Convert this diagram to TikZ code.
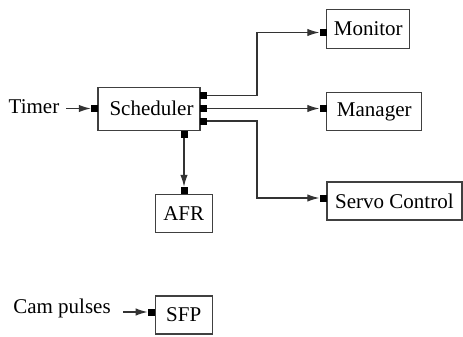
\documentclass[tikz,border=0pt]{standalone}
\usepackage{fontspec}
\setmainfont{Liberation Serif}
\newfontfamily\serf{Liberation Serif}
\usetikzlibrary{arrows.meta}
\begin{document}
\begin{tikzpicture}[x=1pt,y=-1pt,
  box/.style={draw=black!75,line width=1.2pt,fill=white,inner sep=0pt,
    font=\serf\fontsize{21}{25}\selectfont},
  port/.style={fill=black,draw=none,minimum size=7pt,inner sep=0pt},
  conn/.style={draw=black!80,line width=1.3pt,-{Latex[length=12pt,width=7.5pt]}},
  lbl/.style={font=\serf\fontsize{21}{25}\selectfont,inner sep=0pt}]
\useasboundingbox (0,0) rectangle (463,337);
% boxes
\node[box,minimum width=102pt,minimum height=43pt] (sched) at (149,108.8) {\hspace*{5pt}Scheduler};
\node[box,minimum width=83pt,minimum height=39pt] (mon) at (368.3,28.8) {Monitor};
\node[box,minimum width=95pt,minimum height=38pt] (man) at (374.3,111.7) {Manager};
\node[box,minimum width=135pt,minimum height=38pt] (servo) at (394.4,200.9) {Servo Control};
\node[box,minimum width=57pt,minimum height=38pt] (afr) at (183.7,213.3) {AFR};
\node[box,minimum width=57pt,minimum height=38pt] (sfp) at (183.7,315) {SFP};
% labels
\node[lbl] (timer) at (34,107) {Timer};
\node[lbl] (cam) at (62,308) {Cam pulses};
\coordinate (tin) at (66,108.5);
\coordinate (cin) at (123,312);
\coordinate (bend) at (257,0);
% ports
\node[port] (sin) at (94.5,108.5) {};
\node[port] (s1) at (203.5,95.5) {};
\node[port] (s2) at (203.5,108.5) {};
\node[port] (s3) at (203.5,121) {};
\node[port] (sb) at (184,134) {};
\node[port] (pmon) at (323,32.5) {};
\node[port] (pman) at (323,108.5) {};
\node[port] (pservo) at (323,198) {};
\node[port] (pafr) at (184,190.5) {};
\node[port] (psfp) at (151.3,312) {};
% connectors
\draw[conn] (tin) -- (sin.west);
\draw[conn] (cin) -- (psfp.west);
\draw[conn] (s1.east) -- (s1.east -| bend) |- (pmon.west);
\draw[conn] (s2.east) -- (pman.west);
\draw[conn] (s3.east) -- (s3.east -| bend) |- (pservo.west);
\draw[conn] (sb.south) -- (pafr.north);
\end{tikzpicture}
\end{document}
